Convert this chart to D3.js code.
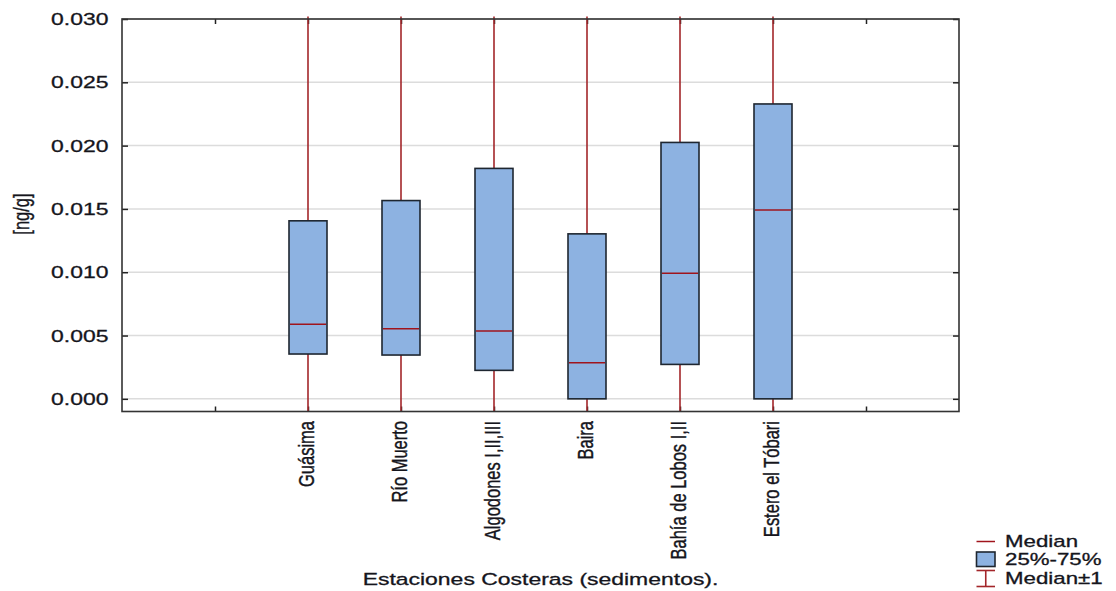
<!DOCTYPE html>
<html>
<head>
<meta charset="utf-8">
<script src="https://cdn.jsdelivr.net/npm/d3@7"></script>
<style>
  html, body { margin: 0; padding: 0; background: #fff; }
  svg { display: block; }
  text { font-family: "Liberation Sans", Arial, sans-serif; fill: #15151c; stroke: #15151c; stroke-width: 0.3px; }
</style>
</head>
<body>
<svg id="chart" width="1116" height="591"></svg>
<script>
// ---- data ----
const categories = ["Guásima", "Río Muerto", "Algodones I,II,III", "Baira", "Bahía de Lobos I,II", "Estero el Tóbari"];
const q1Values     = [0.00354, 0.00346, 0.00225, 0.00000, 0.00272, 0.00000];
const medianValues = [0.00589, 0.00554, 0.00536, 0.00285, 0.00992, 0.01491];
const q3Values     = [0.01406, 0.01566, 0.01820, 0.01303, 0.02025, 0.02329];
const whiskerLow   = [-0.99411, -0.99446, -0.99464, -0.99715, -0.99008, -0.98509];
const whiskerHigh  = [1.00589, 1.00554, 1.00536, 1.00285, 1.00992, 1.01491];
const yTickValues  = [0.000, 0.005, 0.010, 0.015, 0.020, 0.025, 0.030];
const yTickLabels  = ["0.000", "0.005", "0.010", "0.015", "0.020", "0.025", "0.030"];
const legendLabels = ["Median", "25%-75%", "Median±1"];
const yTitle = "[ng/g]";
const xTitle = "Estaciones Costeras (sedimentos).";

// ---- layout ----
const L = 122, R = 959, T = 19, B = 411.5;
const SX = 1.35; // horizontal text stretch
const svg = d3.select("#chart");

const x = d3.scaleLinear().domain([0, 9]).range([L, R]);
const catIndex = d3.scaleOrdinal().domain(categories).range([2, 3, 4, 5, 6, 7]);
const y = d3.scaleLinear().domain([-0.001, 0.030]).range([B, T]);

const clipY = v => Math.max(T - 2.5, Math.min(B, y(v)));

// grid lines
svg.append("g").selectAll("line").data(yTickValues).join("line")
  .attr("x1", L).attr("x2", R)
  .attr("y1", d => y(d)).attr("y2", d => y(d))
  .attr("stroke", "#dcdcdc").attr("stroke-width", 1.5);

// axes with inward ticks
const yAxisL = d3.axisRight(y).tickValues(yTickValues).tickSize(6).tickFormat("");
const yAxisR = d3.axisLeft(y).tickValues(yTickValues).tickSize(6).tickFormat("");
const xTicks = [1, 2, 3, 4, 5, 6, 7, 8];
const xAxisB = d3.axisTop(x).tickValues(xTicks).tickSize(5).tickFormat("");
const xAxisT = d3.axisBottom(x).tickValues(xTicks).tickSize(5).tickFormat("");
function styleAxis(g) {
  g.select(".domain").remove();
  g.selectAll(".tick line").attr("stroke", "#222").attr("stroke-width", 1.5);
}
svg.append("g").attr("transform", `translate(${L},0)`).call(yAxisL).call(styleAxis);
svg.append("g").attr("transform", `translate(${R},0)`).call(yAxisR).call(styleAxis);
svg.append("g").attr("transform", `translate(0,${B})`).call(xAxisB).call(styleAxis);
svg.append("g").attr("transform", `translate(0,${T})`).call(xAxisT).call(styleAxis);

// y tick labels
svg.append("g").selectAll("text").data(yTickValues).join("text")
  .attr("transform", d => `translate(108.5,${y(d)}) scale(${SX},1)`)
  .attr("text-anchor", "end").attr("dy", "0.36em")
  .attr("font-size", 17)
  .text((d, i) => yTickLabels[i]);

// whiskers
const idx = d3.range(categories.length);
svg.append("g").selectAll("line").data(idx).join("line")
  .attr("x1", i => x(catIndex(categories[i]))).attr("x2", i => x(catIndex(categories[i])))
  .attr("y1", i => clipY(whiskerHigh[i])).attr("y2", i => clipY(whiskerLow[i]))
  .attr("stroke", "#a3262a").attr("stroke-width", 1.6);

// boxes
const bw = 38;
svg.append("g").selectAll("rect").data(idx).join("rect")
  .attr("x", i => x(catIndex(categories[i])) - bw / 2)
  .attr("width", bw)
  .attr("y", i => y(q3Values[i]))
  .attr("height", i => y(q1Values[i]) - y(q3Values[i]))
  .attr("fill", "#8db2e1").attr("stroke", "#1e2630").attr("stroke-width", 1.6);

// medians
svg.append("g").selectAll("line").data(idx).join("line")
  .attr("x1", i => x(catIndex(categories[i])) - bw / 2 + 1)
  .attr("x2", i => x(catIndex(categories[i])) + bw / 2 - 1)
  .attr("y1", i => y(medianValues[i])).attr("y2", i => y(medianValues[i]))
  .attr("stroke", "#a0141c").attr("stroke-width", 1.5);

// frame
svg.append("rect").attr("x", L).attr("y", T).attr("width", R - L).attr("height", B - T)
  .attr("fill", "none").attr("stroke", "#333").attr("stroke-width", 1.6);

// x labels (rotated)
svg.append("g").selectAll("text").data(categories).join("text")
  .attr("transform", d => `translate(${x(catIndex(d)) + 6},421) scale(${SX},1) rotate(-90)`)
  .attr("text-anchor", "end")
  .attr("font-size", 16.5)
  .text(d => d);

// y title
svg.append("text")
  .attr("transform", `translate(29,214) scale(${SX},1) rotate(-90)`)
  .attr("text-anchor", "middle")
  .attr("font-size", 16.5)
  .text(yTitle);

// x title
svg.append("text")
  .attr("transform", `translate(${(L + R) / 2},584.5) scale(${SX},1)`)
  .attr("text-anchor", "middle")
  .attr("font-size", 17)
  .text(xTitle);

// legend
const lg = svg.append("g");
const lx0 = 976.5, lx1 = 995, tx = 1005;
lg.append("line").attr("x1", lx0).attr("x2", lx1).attr("y1", 541.5).attr("y2", 541.5)
  .attr("stroke", "#a0141c").attr("stroke-width", 1.5);
lg.append("rect").attr("x", lx0).attr("y", 552).attr("width", lx1 - lx0).attr("height", 14.5)
  .attr("fill", "#8db2e1").attr("stroke", "#1e2630").attr("stroke-width", 1.6);
const wm = (lx0 + lx1) / 2;
lg.append("line").attr("x1", wm).attr("x2", wm).attr("y1", 570.5).attr("y2", 586.5)
  .attr("stroke", "#a3262a").attr("stroke-width", 1.6);
lg.append("line").attr("x1", lx0).attr("x2", lx1).attr("y1", 570.5).attr("y2", 570.5)
  .attr("stroke", "#a3262a").attr("stroke-width", 1.6);
lg.append("line").attr("x1", lx0).attr("x2", lx1).attr("y1", 586.5).attr("y2", 586.5)
  .attr("stroke", "#a3262a").attr("stroke-width", 1.6);
const legY = [546.5, 565, 583.5];
lg.selectAll("text").data(legendLabels).join("text")
  .attr("transform", (d, i) => `translate(${tx},${legY[i]}) scale(${SX},1)`)
  .attr("font-size", 16.5)
  .text(d => d);
</script>
</body>
</html>
